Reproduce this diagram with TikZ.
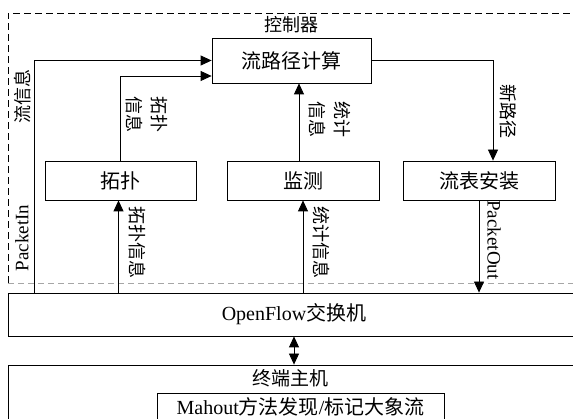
\documentclass[tikz,border=0pt]{standalone}
\usepackage{fontspec}
\setmainfont{Liberation Serif}
\newfontfamily\cjk{Noto Sans CJK SC}
\usetikzlibrary{arrows.meta,calc}
\begin{document}
\begin{tikzpicture}[x=1pt,y=-1pt,
  box/.style={draw,line width=0.8pt,inner sep=0pt,font=\fontsize{20}{24}\selectfont},
  lbl/.style={inner sep=0pt,font=\fontsize{18}{25}\selectfont\cjk,align=center},
  lat/.style={inner sep=0pt,font=\fontsize{19}{22}\selectfont},
  arr/.style={line width=0.8pt,-{Triangle[length=11pt,width=10pt]}},
  dbl/.style={line width=0.8pt,{Triangle[length=11pt,width=10pt]}-{Triangle[length=11pt,width=10pt]}},
  ctrlline/.style={line width=0.8pt,dash pattern=on 7pt off 4pt},
  ctrlbase/.style={line width=0.5pt,gray!70,dash pattern=on 6pt off 4pt}]
\useasboundingbox (0,0) rectangle (573,419);
\clip (0,0) rectangle (573,419);

% controller region
\draw[ctrlbase] (8,283) -- (580,283);
\draw[ctrlline] (8,283) -- (8,13) -- (580,13);
\node[lbl] (ctrl) at (291,25) {控制器};

% boxes
\node[box,minimum width=159pt,minimum height=45pt] (path) at (291.5,60.5) {\cjk 流路径计算};
\node[box,minimum width=151pt,minimum height=39pt] (topo) at (120.5,180.5) {\cjk 拓扑};
\node[box,minimum width=152pt,minimum height=39pt] (mon) at (303,180.5) {\cjk 监测};
\node[box,minimum width=152pt,minimum height=39pt] (inst) at (479,180.5) {\cjk 流表安装};
\node[box,minimum width=572pt,minimum height=43pt] (of) at (294,314.5) {OpenFlow{\cjk 交换机}};
\node[box,minimum width=572pt,minimum height=80pt] (host) at (294,405) {};
\node[lbl,font=\fontsize{19}{22}\selectfont\cjk] (hostlbl) at (290,378) {终端主机};
\node[box,minimum width=287pt,minimum height=28pt] (mah) at (300.5,407) {Mahout{\cjk 方法发现}/{\cjk 标记大象流}};

% connectors
\coordinate (pin) at ($(of.north west)+(27,0)$);
\draw[arr] (pin) |- (path.west);
\coordinate (t2) at ($(path.west)+(0,15.5)$);
\draw[arr] (topo.north) |- (t2);
\coordinate (tb) at ($(topo.south)+(-2,0)$);
\draw[arr] (tb |- of.north) -- (tb);
\coordinate (m1) at ($(mon.north)+(-4,0)$);
\draw[arr] (m1) -- (m1 |- path.south);
\draw[arr] (mon.south |- of.north) -- (mon.south);
\coordinate (n1) at ($(inst.north)+(14,0)$);
\draw[arr] (path.east) -| (n1);
\draw[arr] (inst.south) -- (inst.south |- of.north);
\draw[dbl] (of.south) -- (host.north);

% labels
\node[lbl,rotate=90] (lflow) at (23,97) {流信息};
\node[lat,rotate=90] (lpin) at (22,238) {PacketIn};
\node[lbl,rotate=-90] (ltopo1) at (147,115) {拓扑\\信息};
\node[lbl,rotate=-90] (ltopo2) at (137,243) {拓扑信息};
\node[lbl,rotate=-90] (lstat1) at (330,120) {统计\\信息};
\node[lbl,rotate=-90] (lstat2) at (321,243) {统计信息};
\node[lbl,rotate=-90] (lnew) at (508,112) {新路径};
\node[lat,rotate=-90] (lpout) at (494,240) {PacketOut};
\end{tikzpicture}
\end{document}
